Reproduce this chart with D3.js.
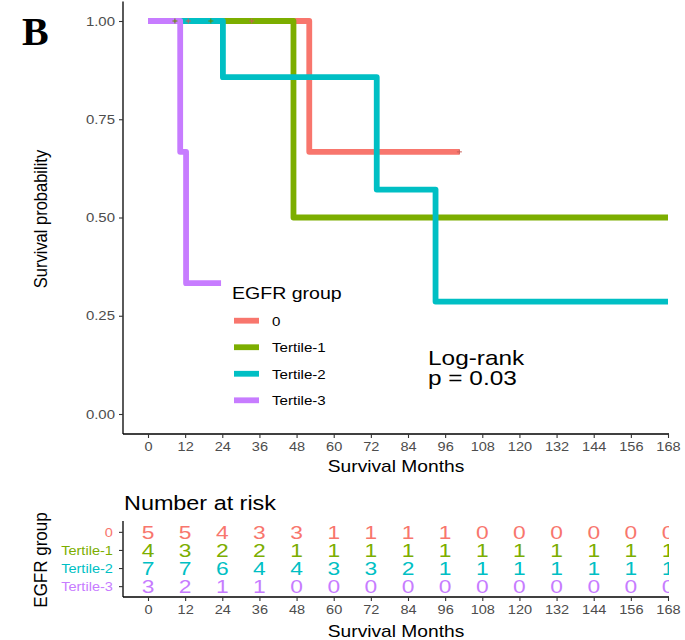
<!DOCTYPE html>
<html><head><meta charset="utf-8">
<script src="https://cdn.jsdelivr.net/npm/d3@7"></script>
<style>body{margin:0;background:#fff}svg{display:block}text{font-family:"Liberation Sans",Arial,sans-serif}</style>
</head><body>
<script>
// ---- data ----
const groups = ["0", "Tertile-1", "Tertile-2", "Tertile-3"];
const groupColors = ["#F8766D", "#7CAE00", "#00BFC4", "#C77CFF"];
const times0 = [0, 52.1, 100.6];           const surv0 = [1, 0.667, 0.667];
const times1 = [0, 47.0, 168];             const surv1 = [1, 0.5, 0.5];
const times2 = [0, 24.2, 73.9, 92.9, 168]; const surv2 = [1, 0.857, 0.571, 0.286, 0.286];
const times3 = [0, 10.4, 12.3, 23.6];      const surv3 = [1, 0.667, 0.333, 0.333];
const censorGroup = ["Tertile-1", "0", "Tertile-1", "0", "0"];
const censorTime  = [8.7, 13.0, 20.3, 33.5, 100.6];
const censorSurv  = [1, 1, 1, 1, 0.667];
const xTicks = [0, 12, 24, 36, 48, 60, 72, 84, 96, 108, 120, 132, 144, 156, 168];
const yTicks = [0, 0.25, 0.5, 0.75, 1];
const risk0 = [5, 5, 4, 3, 3, 1, 1, 1, 1, 0, 0, 0, 0, 0, 0];
const risk1 = [4, 3, 2, 2, 1, 1, 1, 1, 1, 1, 1, 1, 1, 1, 1];
const risk2 = [7, 7, 6, 4, 4, 3, 3, 2, 1, 1, 1, 1, 1, 1, 1];
const risk3 = [3, 2, 1, 1, 0, 0, 0, 0, 0, 0, 0, 0, 0, 0, 0];
const pText = ["Log-rank", "p = 0.03"];

const timesAll = [times0, times1, times2, times3];
const survAll = [surv0, surv1, surv2, surv3];
const riskAll = [risk0, risk1, risk2, risk3];

const W = 685, H = 640, SX = 1.2;
const svg = d3.select("body").append("svg").attr("width", W).attr("height", H);

function label(g, x, y, str, o) {
  o = o || {};
  const t = g.append("text")
    .attr("transform", `translate(${x},${y}) ${o.rot ? "rotate(-90) scale(1," + (o.sx || SX) + ")" : "scale(" + (o.sx || SX) + ",1)"}`)
    .attr("text-anchor", o.anchor || "start")
    .attr("font-size", o.size || 14)
    .attr("fill", o.color || "#000")
    .text(str);
  if (o.weight) t.attr("font-weight", o.weight);
  if (o.family) t.attr("style", "font-family:" + o.family);
  return t;
}

// panel geometry
const P = {left: 123, right: 669, top: 1.4, bottom: 434};
const x = d3.scaleLinear().domain([0, 168]).range([148, 668]);
const y = d3.scaleLinear().domain([0, 1]).range([414, 21]);

// panel label
label(svg, 22, 45, "B", {size: 40, weight: "bold", family: "'Liberation Serif','Times New Roman',serif", sx: 1});

// clip
svg.append("clipPath").attr("id", "clipMain").append("rect")
  .attr("x", P.left).attr("y", P.top).attr("width", P.right - P.left).attr("height", P.bottom - P.top);
svg.append("clipPath").attr("id", "clipRisk").append("rect")
  .attr("x", 123).attr("y", 515).attr("width", 669 - 123).attr("height", 85);

// curves
const line = d3.line().x(d => x(d[0])).y(d => y(d[1])).curve(d3.curveStepAfter);
const gc = svg.append("g").attr("clip-path", "url(#clipMain)");
groups.forEach((gname, i) => {
  const pts = timesAll[i].map((t, k) => [t, survAll[i][k]]);
  gc.append("path").datum(pts).attr("d", line)
    .attr("fill", "none").attr("stroke", groupColors[i])
    .attr("stroke-width", 5.8).attr("stroke-linejoin", "round").attr("stroke-linecap", "butt");
});
// censor marks
censorTime.forEach((t, k) => {
  const c = groupColors[groups.indexOf(censorGroup[k])];
  const cx = x(t), cy = y(censorSurv[k]);
  gc.append("path").attr("d", `M${cx - 2.5},${cy}H${cx + 2.5}M${cx},${cy - 2.5}V${cy + 2.5}`)
    .attr("stroke", d3.color(c).darker(0.6)).attr("stroke-width", 1);
});

// axes main
const axL = svg.append("g").attr("transform", `translate(${P.left},0)`)
  .call(d3.axisLeft(y).tickValues(yTicks).tickFormat(d3.format(".2f")).tickSize(4).tickPadding(3));
axL.select(".domain").attr("d", `M0,${P.top}V${P.bottom}`);
const axB = svg.append("g").attr("transform", `translate(0,${P.bottom})`)
  .call(d3.axisBottom(x).tickValues(xTicks).tickSize(4).tickPadding(4));
axB.select(".domain").attr("d", `M${P.left},0H${P.right}`);
[axL, axB].forEach(a => {
  a.select(".domain").attr("stroke", "#000").attr("stroke-width", 1.3);
  a.selectAll(".tick line").attr("stroke", "#333").attr("stroke-width", 1.1);
  a.selectAll(".tick text").attr("font-size", 13).attr("fill", "#4D4D4D")
    .attr("font-family", "'Liberation Sans',Arial,sans-serif");
});
axB.selectAll(".tick text").attr("transform", "scale(1.12,1)");
axL.selectAll(".tick text").attr("transform", "scale(1.15,1)");

label(svg, 396, 472, "Survival Months", {size: 16, anchor: "middle"});
label(svg, 47, 219, "Survival probability", {size: 16.5, anchor: "middle", rot: true, sx: 1.1});

// legend
label(svg, 232, 299, "EGFR group", {size: 17, sx: 1.15});
const legY = d3.scalePoint().domain(groups).range([320.7, 400.3]);
groups.forEach((gname, i) => {
  svg.append("line").attr("x1", 234).attr("x2", 259).attr("y1", legY(gname)).attr("y2", legY(gname))
    .attr("stroke", groupColors[i]).attr("stroke-width", 5.8);
  label(svg, 272, legY(gname) + 5, gname, {size: 13.5, sx: 1.12});
});

// log-rank
pText.forEach((s, i) => label(svg, 428, 365 + i * 19.5, s, {size: 20, sx: 1.22}));

// ---- risk table ----
label(svg, 124, 510, "Number at risk", {size: 19.5, sx: 1.2});
const ry = d3.scalePoint().domain(groups).range([521, 597]).padding(0.6);
const gr = svg.append("g").attr("clip-path", "url(#clipRisk)");
groups.forEach((gname, i) => {
  riskAll[i].forEach((v, k) => {
    label(gr, x(xTicks[k]), ry(gname) + 7, v, {size: 19, anchor: "middle", color: groupColors[i], sx: 1.2});
  });
});
const rL = svg.append("g").attr("transform", "translate(123,0)")
  .call(d3.axisLeft(ry).tickSize(4).tickPadding(5));
rL.select(".domain").attr("d", "M0,521V597");
rL.selectAll(".tick text").attr("font-size", 13).attr("font-family", "'Liberation Sans',Arial,sans-serif")
  .attr("fill", (d, i) => groupColors[i]).attr("transform", "scale(1.12,1)");
const rB = svg.append("g").attr("transform", "translate(0,597)")
  .call(d3.axisBottom(x).tickValues(xTicks).tickSize(4).tickPadding(4));
rB.select(".domain").attr("d", `M123,0H669`);
rB.selectAll(".tick text").attr("font-size", 13).attr("fill", "#4D4D4D")
  .attr("font-family", "'Liberation Sans',Arial,sans-serif").attr("transform", "scale(1.12,1)");
[rL, rB].forEach(a => {
  a.select(".domain").attr("stroke", "#000").attr("stroke-width", 1.3);
  a.selectAll(".tick line").attr("stroke", "#333").attr("stroke-width", 1.1);
});
label(svg, 396, 637, "Survival Months", {size: 16, anchor: "middle"});
label(svg, 47, 560, "EGFR group", {size: 17, anchor: "middle", rot: true, sx: 1.1});
</script>
</body></html>
